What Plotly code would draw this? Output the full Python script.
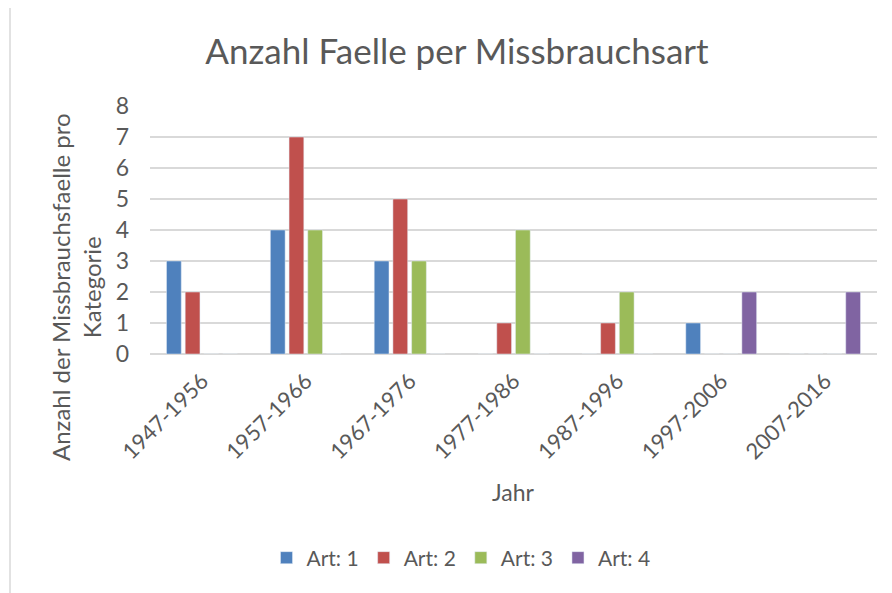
import plotly.graph_objects as go

categories = ["1947-1956", "1957-1966", "1967-1976", "1977-1986", "1987-1996", "1997-2006", "2007-2016"]
art1 = [3, 4, 3, 0, 0, 1, 0]
art2 = [2, 7, 5, 1, 1, 0, 0]
art3 = [0, 4, 3, 4, 2, 0, 0]
art4 = [0, 0, 0, 0, 0, 2, 2]
series_names = ["Art: 1", "Art: 2", "Art: 3", "Art: 4"]
colors = ["#4F81BD", "#C0504D", "#9BBB59", "#8064A2"]

FONT = "Lato"
GREY = "#595959"

fig = go.Figure()
for name, vals, col in zip(series_names, [art1, art2, art3, art4], colors):
    fig.add_trace(go.Bar(x=categories, y=vals, name=name, marker_color=col))

# page has an 8px body margin; work in page pixel coords and convert
OFF = 8
W, H = 892, 593
plot_left, plot_right, plot_top, plot_bottom = 150, 877, 106, 354
L = plot_left - OFF
T = plot_top - OFF
pw = plot_right - plot_left
ph = plot_bottom - plot_top
R = W - L - pw
B = H - T - ph

def px_x(p):
    return (p - plot_left) / pw

def px_y(p):
    return (plot_bottom - p) / ph

fig.update_layout(
    width=W, height=H,
    margin=dict(l=L, r=R, t=T, b=B),
    paper_bgcolor="white", plot_bgcolor="white",
    barmode="group", bargap=0.28, bargroupgap=0.21,
    font=dict(family=FONT, color=GREY),
    title=dict(text="Anzahl Faelle per Missbrauchsart", x=(457 - OFF) / W, xanchor="center",
               y=1 - (52 - OFF) / H, yanchor="middle", font=dict(size=35, color=GREY)),
    xaxis=dict(tickangle=-45, tickfont=dict(size=22, color=GREY), showline=False,
               showgrid=False, ticks="", ticklabelstandoff=9),
    yaxis=dict(range=[0, 8], dtick=1, tickfont=dict(size=23, color=GREY),
               gridcolor="#D9D9D9", gridwidth=1.5, zeroline=True, zerolinecolor="#D9D9D9",
               zerolinewidth=1.5, showline=False, ticks="", ticklabelstandoff=20),
    legend=dict(orientation="h", x=px_x(461), xanchor="center", y=px_y(558), yanchor="middle",
                font=dict(size=21, color=GREY), itemwidth=30),
    annotations=[
        dict(text="Anzahl der Missbrauchsfaelle pro<br>Kategorie", textangle=-90,
             xref="paper", yref="paper", x=px_x(76), y=px_y(287), xanchor="center",
             yanchor="middle", showarrow=False, font=dict(size=24, color=GREY)),
        dict(text="Jahr", xref="paper", yref="paper", x=px_x(513), y=px_y(492),
             xanchor="center", yanchor="middle", showarrow=False,
             font=dict(size=23, color=GREY)),
    ],
    shapes=[dict(type="rect", xref="paper", yref="paper", x0=px_x(10), x1=px_x(905),
                 y0=px_y(610), y1=px_y(7), line=dict(color="#D9D9D9", width=1.5),
                 layer="below")],
)

fig.write_html("out.html")
